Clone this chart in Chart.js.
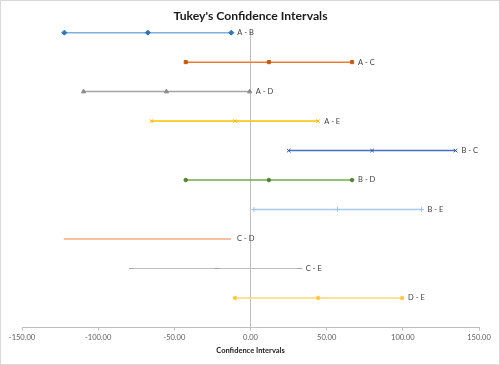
<!DOCTYPE html>
<html>
<head>
<meta charset="utf-8">
<script src="https://cdn.jsdelivr.net/npm/chart.js@4"></script>
<style>
  body { margin: 0; background: #fff; }
  #wrap { position: relative; width: 500px; height: 365px; }
  #frame { position: absolute; left: 0; top: 0; right: 0; bottom: 0; border: 1px solid #d9d9d9; pointer-events: none; }
</style>
</head>
<body>
<div id="wrap">
  <canvas id="chart" width="500" height="365"></canvas>
  <div id="frame"></div>
</div>
<script>
// comparison pairs, top to bottom
const pairs = ["A - B", "A - C", "A - D", "A - E", "B - C", "B - D", "B - E", "C - D", "C - E", "D - E"];
const lower = [-122.2, -42.5, -109.6, -65.0, 25.1, -42.5, 2.2, -122.6, -78.1, -10.1];
const diff  = [-67.4, 12.1, -55.2, -10.1, 79.8, 12.1, 57.1, -67.7, -22.1, 44.4];
const upper = [-12.6, 66.7, -0.5, 44.4, 134.6, 66.7, 112.3, -12.8, 32.4, 99.5];
const xTicks = [-150, -100, -50, 0, 50, 100, 150];

// styles
const lineColors = ['#7FB0DE', '#ED7D31', '#A5A5A5', '#FFC000', '#4472C4', '#70AD47', '#A9CBEA', '#F8BFA0', '#BDBDBD', '#FFD978'];
const markColors = ['#2E75B6', '#C55A11', '#8C8C8C', '#F2B600', '#2F5597', '#548235', '#9DC3E6', '#F8BFA0', '#A5A5A5', '#FFC94D'];
const markStyles = ['rectRot', 'rect', 'triangle', 'crossRot', 'crossRot', 'circle', 'cross', 'circle', 'line', 'circle'];
const markSizes = [2.5, 2.2, 2.5, 2.5, 2.5, 1.8, 2.5, 0, 2.5, 1.8];
const lineWidths = [1.5, 1.5, 1.5, 1.5, 1.5, 1.5, 1.5, 2, 1, 1.5];

const datasets = pairs.map((p, i) => ({
    label: p,
    data: [
        {x: lower[i], y: pairs.length - i},
        {x: diff[i], y: pairs.length - i},
        {x: upper[i], y: pairs.length - i}
    ],
    showLine: true,
    borderColor: lineColors[i],
    borderWidth: lineWidths[i],
    pointStyle: markStyles[i],
    pointRadius: markSizes[i],
    pointBackgroundColor: markColors[i],
    pointBorderColor: markColors[i],
    pointBorderWidth: 1,
    clip: false
}));

// pair names to the right of each interval
const pairLabels = {
    id: 'pairLabels',
    afterDatasetsDraw(chart) {
        const ctx = chart.ctx;
        const xs = chart.scales.x, ys = chart.scales.y;
        ctx.save();
        ctx.font = '7.5px Lato';
        ctx.fillStyle = '#404040';
        ctx.textBaseline = 'middle';
        ctx.textAlign = 'left';
        pairs.forEach((p, i) => {
            ctx.fillText(p, xs.getPixelForValue(upper[i]) + 6, ys.getPixelForValue(pairs.length - i));
        });
        ctx.restore();
    }
};

new Chart(document.getElementById('chart'), {
    type: 'scatter',
    data: { datasets: datasets },
    plugins: [pairLabels],
    options: {
        responsive: false,
        animation: false,
        layout: { padding: { left: 22, right: 21, top: 0, bottom: 7.5 } },
        plugins: {
            legend: { display: false },
            tooltip: { enabled: false },
            title: {
                display: true,
                text: "Tukey's Confidence Intervals",
                color: '#1a1a1a',
                font: { family: 'Lato', size: 12.2, weight: 'bold' },
                padding: { top: 9, bottom: 9 }
            }
        },
        scales: {
            x: {
                type: 'linear',
                min: -150,
                max: 150,
                afterBuildTicks(axis) { axis.ticks = xTicks.map(v => ({value: v})); },
                grid: { drawOnChartArea: false, tickLength: 3, color: '#bfbfbf' },
                border: { color: '#bfbfbf' },
                ticks: {
                    color: '#595959',
                    padding: 2.5,
                    maxRotation: 0,
                    font: { family: 'Lato', size: 7.5 },
                    callback: v => v.toFixed(2)
                },
                title: {
                    display: true,
                    text: 'Confidence Intervals',
                    color: '#1a1a1a',
                    font: { family: 'Lato', size: 7.5, weight: 'bold' },
                    padding: { top: 2, bottom: 2 }
                }
            },
            y: {
                type: 'linear',
                min: 0,
                max: 10,
                position: { x: 0 },
                grid: { display: false },
                border: { color: '#bfbfbf' },
                ticks: { display: false }
            }
        }
    }
});
</script>
</body>
</html>
